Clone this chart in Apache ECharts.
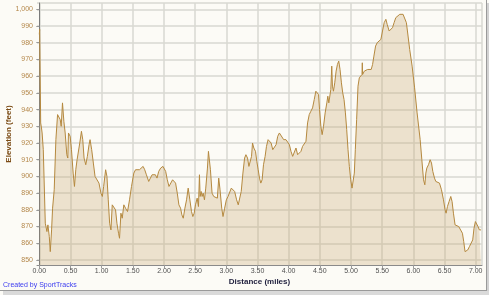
<!DOCTYPE html>
<html>
<head>
<meta charset="utf-8">
<script src="https://cdn.jsdelivr.net/npm/echarts@6/dist/echarts.min.js"></script>
<style>
html,body{margin:0;padding:0;background:#ffffff;}
#chart{width:489px;height:295px;}
</style>
</head>
<body>
<div id="chart"></div>
<script>
var distanceMiles = [
  0, 0.006, 0.022, 0.035, 0.045, 0.064, 0.096, 0.122, 0.138, 0.160, 0.176, 0.197, 0.213, 0.239, 0.266, 0.293, 0.319, 0.335, 0.351, 0.372,
  0.394, 0.415, 0.441, 0.457, 0.468, 0.495, 0.516, 0.543, 0.564, 0.585, 0.606, 0.628, 0.649, 0.676, 0.697, 0.718, 0.745, 0.771, 0.798, 0.814,
  0.840, 0.867, 0.894, 0.926, 0.957, 0.989, 1.011, 1.032, 1.064, 1.085, 1.106, 1.128, 1.149, 1.170, 1.197, 1.223, 1.245, 1.271, 1.287, 1.309,
  1.330, 1.356, 1.383, 1.415, 1.447, 1.479, 1.516, 1.543, 1.574, 1.606, 1.638, 1.665, 1.691, 1.718, 1.755, 1.782, 1.809, 1.835, 1.862, 1.888,
  1.915, 1.947, 1.984,
  2.027, 2.053, 2.080, 2.112, 2.138, 2.165, 2.186, 2.213, 2.239, 2.266, 2.287, 2.309, 2.335, 2.362, 2.388, 2.415, 2.441, 2.463, 2.484, 2.505,
  2.532, 2.553, 2.569, 2.580, 2.596, 2.612, 2.628, 2.649, 2.670, 2.697, 2.713, 2.729, 2.745, 2.771, 2.798, 2.830, 2.856, 2.878, 2.899, 2.926,
  2.947, 2.973, 3.000, 3.027, 3.059, 3.080, 3.106, 3.133, 3.165, 3.191, 3.213, 3.239, 3.266, 3.293, 3.314, 3.340, 3.362, 3.383, 3.404, 3.420,
  3.441, 3.468, 3.489, 3.511, 3.532, 3.553, 3.574, 3.596, 3.622, 3.644, 3.670, 3.691, 3.718, 3.745, 3.771, 3.798, 3.824, 3.851, 3.883, 3.920,
  3.957, 3.984,
  4.011, 4.037, 4.064, 4.090, 4.117, 4.144, 4.165, 4.197, 4.223, 4.250, 4.277, 4.303, 4.330, 4.356, 4.383, 4.410, 4.436, 4.463, 4.479, 4.495,
  4.516, 4.537, 4.559, 4.585, 4.612, 4.628, 4.644, 4.660, 4.676, 4.691, 4.702, 4.718, 4.739, 4.761, 4.782, 4.803, 4.824, 4.846, 4.867, 4.888,
  4.910, 4.931, 4.952, 4.973, 4.995, 5.016, 5.037, 5.053, 5.069, 5.090, 5.112, 5.133, 5.154, 5.176, 5.181, 5.186, 5.213, 5.239, 5.266, 5.293,
  5.324, 5.346, 5.367, 5.394, 5.420, 5.452, 5.479, 5.505, 5.532, 5.559, 5.580, 5.612, 5.638, 5.665, 5.691, 5.718, 5.750, 5.782, 5.809, 5.835,
  5.862, 5.888, 5.915, 5.941, 5.980, 6.020, 6.060,
  6.109, 6.136, 6.163, 6.184, 6.200, 6.216, 6.243, 6.269, 6.291, 6.312, 6.339, 6.360, 6.387, 6.419, 6.451, 6.483, 6.509, 6.525, 6.547, 6.573,
  6.600, 6.621, 6.643, 6.669, 6.696, 6.728, 6.760, 6.787, 6.808, 6.829, 6.851, 6.872, 6.899, 6.925, 6.952, 6.973, 6.995, 7.016, 7.037, 7.059,
  7.085
];
var elevationFeet = [
  985, 988, 932, 929, 926, 916, 872, 867, 871, 864, 855, 868, 881, 892, 922, 937, 936, 934, 930, 944,
  933, 926, 913, 911, 926, 924, 916, 902, 894, 904, 910, 909, 920, 927, 922, 911, 907, 912, 919, 922,
  916, 908, 900, 900, 896, 890, 888, 894, 904, 900, 886, 872, 868, 883, 884, 880, 872, 866, 863, 878,
  875, 883, 881, 879, 886, 894, 902, 904, 903, 904, 905, 906, 904, 901, 897, 899, 901, 902, 901, 899,
  903, 905, 906,
  903, 898, 894, 894, 898, 899, 896, 890, 883, 881, 877, 875, 881, 886, 893, 886, 879, 876, 878, 883,
  887, 882, 901, 888, 891, 888, 890, 886, 893, 905, 915, 916, 904, 890, 888, 888, 887, 899, 892, 881,
  876, 881, 886, 888, 889, 893, 894, 891, 886, 883, 882, 891, 902, 911, 913, 911, 906, 905, 912, 920,
  917, 915, 909, 904, 899, 896, 898, 907, 912, 918, 922, 923, 920, 916, 915, 919, 924, 926, 925, 922,
  922, 922,
  919, 915, 912, 912, 917, 913, 912, 915, 918, 919, 921, 932, 937, 939, 941, 946, 951, 951, 949, 940,
  930, 925, 930, 938, 944, 948, 944, 943, 952, 966, 954, 951, 956, 963, 967, 969, 964, 956, 950, 946,
  938, 928, 916, 906, 898, 893, 892, 902, 916, 934, 954, 959, 960, 961, 968, 961, 963, 964, 964, 963,
  964, 967, 972, 978, 980, 981, 982, 987, 992, 994, 991, 987, 986, 989, 992, 995, 996, 997, 996, 997,
  996, 992, 984, 976, 966, 953, 938,
  922, 910, 898, 895, 902, 905, 907, 910, 908, 903, 899, 897, 897, 896, 892, 886, 880, 878, 882, 885,
  888, 885, 878, 871, 870, 870, 870, 866, 861, 855, 854, 856, 858, 858, 862, 869, 873, 872, 870, 868,
  868
];
var xAxisTitle = 'Distance (miles)';
var yAxisTitle = 'Elevation (feet)';
var creditText = 'Created by SportTracks';

var points = distanceMiles.map(function (d, i) { return [d, elevationFeet[i]]; });

var chart = echarts.init(document.getElementById('chart'), null, { renderer: 'canvas' });
var FONT = '"Liberation Sans", Arial, sans-serif';
chart.setOption({
  backgroundColor: '#fcfbf6',
  animation: false,
  grid: { left: 37, right: 7, top: 3, bottom: 30, containLabel: false, outerBoundsMode: 'none' },
  xAxis: {
    type: 'value',
    min: -0.037, max: 7.101,
    splitNumber: 15, minInterval: 0.5, maxInterval: 0.5,
    name: xAxisTitle, nameLocation: 'middle', nameGap: 13, nameMoveOverlap: false,
    nameTextStyle: { fontFamily: FONT, fontSize: 8, fontWeight: 'bold', color: '#1e1e3c' },
    axisLine: { show: true, onZero: false, lineStyle: { color: '#8a8a8a', width: 1 } },
    axisTick: { show: true, length: 3, lineStyle: { color: '#9a9a9a' } },
    axisLabel: {
      fontFamily: FONT, fontSize: 7, color: '#505050', margin: 3,
      showMinLabel: false, showMaxLabel: false,
      formatter: function (v) { return v.toFixed(2); }
    },
    splitLine: { show: true, showMinLine: false, showMaxLine: true, lineStyle: { color: '#d8d8d2', width: 1.5 } }
  },
  yAxis: {
    type: 'value',
    min: 847, max: 1003.77,
    splitNumber: 15, minInterval: 10, maxInterval: 10,
    name: yAxisTitle, nameLocation: 'middle', nameGap: 24, nameRotate: 90, nameMoveOverlap: false,
    nameTextStyle: { fontFamily: FONT, fontSize: 8, fontWeight: 'bold', color: '#7a4a14' },
    axisLine: { show: true, lineStyle: { color: '#7a7a7a', width: 1 } },
    axisTick: { show: true, length: 3, lineStyle: { color: '#9a9a9a' } },
    axisLabel: {
      fontFamily: FONT, fontSize: 7, color: '#b4874a', margin: 4,
      showMinLabel: false, showMaxLabel: false,
      formatter: function (v) {
        var s = String(Math.round(v));
        return s.length > 3 ? s.slice(0, s.length - 3) + ',' + s.slice(-3) : s;
      }
    },
    splitLine: { show: true, showMinLine: false, showMaxLine: true, lineStyle: { color: '#d8d8d2', width: 1.5 } }
  },
  series: [{
    type: 'line',
    data: points,
    showSymbol: false,
    smooth: false,
    clip: true,
    lineStyle: { color: '#b5893f', width: 1 },
    areaStyle: { origin: 'start', color: 'rgba(203,169,118,0.45)' }
  }],
  graphic: [
    { type: 'text', left: 3, top: 282, style: { text: creditText, fontFamily: FONT, fontSize: 7, fill: '#3c3cf0' } },
    { type: 'rect', shape: { x: 487, y: 3, width: 2, height: 292 }, style: { fill: '#d2d2d2' } },
    { type: 'rect', shape: { x: 3, y: 291, width: 486, height: 4 }, style: { fill: '#dadada' } },
    { type: 'line', shape: { x1: 486.5, y1: 0, x2: 486.5, y2: 291 }, style: { stroke: '#9a9a9a', lineWidth: 1 } },
    { type: 'line', shape: { x1: 0, y1: 290.5, x2: 487, y2: 290.5 }, style: { stroke: '#9a9a9a', lineWidth: 1 } }
  ]
});
</script>
</body>
</html>
